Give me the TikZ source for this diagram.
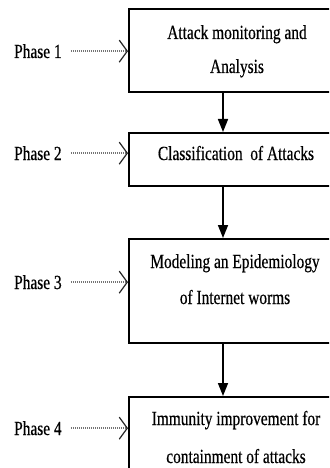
\documentclass[tikz,border=0pt]{standalone}
\usepackage{fontspec}
\setmainfont{Liberation Serif}[FakeStretch=0.77,FakeBold=0.5]
\usetikzlibrary{arrows.meta}
\begin{document}
\begin{tikzpicture}[x=1pt,y=-1pt,
  box/.style={draw=black, line width=2pt, rectangle, inner sep=0pt, anchor=north west, minimum width=217pt},
  txt/.style={font=\fontsize{20}{20}\selectfont, anchor=base, inner sep=0pt},
  phase/.style={font=\fontsize{20}{20}\selectfont, anchor=base west, inner sep=0pt},
  flow/.style={line width=1.6pt, -{Triangle[length=13pt,width=10pt]}},
  feed/.style={draw=black!55, line width=1.4pt, dash pattern=on 1.2pt off 0.8pt,
    -{Straight Barb[length=8pt,width=22pt,line width=1.2pt,color=black!85]}}]
\useasboundingbox (0,0) rectangle (329,468);
\clip (0,0) rectangle (329,468);
\fill[white] (0,0) rectangle (329,468);
% boxes
\node[box, minimum height=83pt]  (b1) at (128,8)   {};
\node[box, minimum height=53pt]  (b2) at (128,132) {};
\node[box, minimum height=104pt] (b3) at (128,238) {};
\node[box, minimum height=100pt] (b4) at (128,396) {};
% box texts
\node[txt] (t1a) at (237,39)  {Attack monitoring and};
\node[txt] (t1b) at (237,73)  {Analysis};
\node[txt] (t2)  at (236,160) {Classification\ \ of Attacks};
\node[txt] (t3a) at (235,268) {Modeling an Epidemiology};
\node[txt] (t3b) at (235,304) {of Internet worms};
\node[txt] (t4a) at (236,425) {Immunity improvement for};
\node[txt] (t4b) at (236,463) {containment of attacks};
% flow arrows
\coordinate (ax) at (223,0);
\draw[flow] (b1.south -| ax) -- (b2.north -| ax);
\draw[flow] (b2.south -| ax) -- (b3.north -| ax);
\draw[flow] (b3.south -| ax) -- (b4.north -| ax);
% phases
\node[phase] (p1) at (14,58)  {Phase 1};
\node[phase] (p2) at (14,160) {Phase 2};
\node[phase] (p3) at (14,289) {Phase 3};
\node[phase] (p4) at (14,435) {Phase 4};
\draw[feed] ([xshift=9pt]p1.east) -- (p1.east -| b1.west);
\draw[feed] ([xshift=9pt]p2.east) -- (p2.east -| b2.west);
\draw[feed] ([xshift=9pt]p3.east) -- (p3.east -| b3.west);
\draw[feed] ([xshift=9pt]p4.east) -- (p4.east -| b4.west);
\end{tikzpicture}
\end{document}
